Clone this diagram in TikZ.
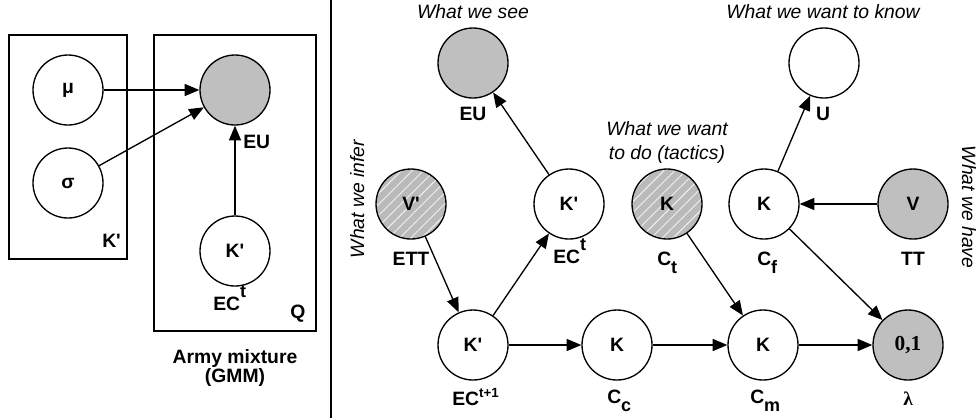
\documentclass[tikz,border=0pt]{standalone}
\usepackage{fontspec}
\setmainfont{Liberation Sans}
\newfontfamily\serifbf{Liberation Serif}
\usetikzlibrary{arrows.meta,patterns.meta}
\newcommand\mysup[1]{\raisebox{9.5pt}{\fontsize{13.5}{14}\selectfont #1}}
\newcommand\mysupsm[1]{\raisebox{5.5pt}{\fontsize{10}{11}\selectfont #1}}
\newcommand\mysub[1]{\raisebox{-6.5pt}{\fontsize{13.5}{14}\selectfont #1}}
\newcommand\kp{K\textquotesingle}
\begin{document}
\begin{tikzpicture}[x=0.75pt,y=-0.75pt,
  var/.style={circle,draw,line width=1pt,minimum size=52.5pt,inner sep=0pt,
    font=\fontsize{14.5}{16}\selectfont\bfseries},
  obs/.style={var,fill=black!25},
  hid/.style={var,preaction={fill=black!27},
    pattern={Lines[angle=45,distance=5.8pt,line width=0.7pt]},pattern color=black!6},
  lbl/.style={font=\fontsize{14.5}{16}\selectfont\bfseries,inner sep=0pt,anchor=base},
  lblw/.style={lbl,anchor=base west},
  itl/.style={font=\fontsize{14.5}{16}\selectfont\itshape,inner sep=0pt,anchor=base},
  plate/.style={draw,line width=1pt},
  arr/.style={line width=1pt,-{Triangle[length=11pt,width=9pt]}}]
\useasboundingbox (0,0) rectangle (980,419);
% ---------- left panel ----------
\draw[plate] (9,35) rectangle (127,259);
\draw[plate] (154,35) rectangle (316,331);
\node[var] (mu) at (68,90) {μ};
\node[var] (sg) at (68,183) {σ};
\node[obs] (eul) at (235,90) {};
\node[var] (kl) at (235,251) {\kp};
\node[lblw] (eull) at (243,148) {EU};
\node[lblw] (ecl) at (213,310) {EC\mysup{t}};
\node[lblw] (kpl) at (102,247) {\kp};
\node[lblw] (ql) at (290,318) {Q};
\node[lbl] (army1) at (235,363) {Army mixture};
\node[lbl] (army2) at (235,382) {(GMM)};
\draw[arr] (mu) -- (eul);
\draw[arr] (sg) -- (eul);
\draw[arr] (kl) -- (eul);
\coordinate (sept) at (331,0);
\coordinate (sepb) at (331,418);
\draw[line width=2.2pt] (sept) -- (sepb);
% ---------- right panel ----------
\node[obs] (eu) at (473,63) {};
\node[hid] (ett) at (411,204) {V\textquotesingle};
\node[var] (ect) at (569,204) {\kp};
\node[var] (ect1) at (473,345) {\kp};
\node[var] (cc) at (617,345) {K};
\node[hid] (ct) at (667,204) {K};
\node[var] (cf) at (764,204) {K};
\node[var] (u) at (824,63) {};
\node[obs] (tt) at (913,204) {V};
\node[var] (cm) at (763,345) {K};
\node[obs,font=\fontsize{16}{18}\selectfont\serifbf\bfseries] (lam) at (908,345) {0,1};
% labels
\node[lbl] (eulab) at (473,120) {EU};
\node[lbl] (ettlab) at (411,265) {ETT};
\node[lblw] (ectlab) at (553,263) {EC\mysup{t}};
\node[lblw] (ect1lab) at (452,405) {EC\mysupsm{t+1}};
\node[lblw] (cclab) at (607,403) {C\mysub{c}};
\node[lblw] (ctlab) at (657,265) {C\mysub{t}};
\node[lblw] (cflab) at (757,265) {C\mysub{f}};
\node[lbl] (ulab) at (823,120) {U};
\node[lbl] (ttlab) at (913,265) {TT};
\node[lblw] (cmlab) at (750,403) {C\mysub{m}};
\node[lbl,font=\fontsize{14.5}{16}\selectfont\serifbf\bfseries] (lamlab) at (908,405) {λ};
% italic annotations
\node[itl] (see) at (473,18) {What we see};
\node[itl] (know) at (823,18) {What we want to know};
\node[itl] (todo1) at (667,135) {What we want};
\node[itl] (todo2) at (667,159) {to do (tactics)};
\node[itl,rotate=90] (infer) at (364,199) {What we infer};
\node[itl,rotate=-90] (have) at (962,207) {What we have};
% arrows
\draw[arr] (ect) -- (eu);
\draw[arr] (ett) -- (ect1);
\draw[arr] (ect1) -- (ect);
\draw[arr] (ect1) -- (cc);
\draw[arr] (cc) -- (cm);
\draw[arr] (ct) -- (cm);
\draw[arr] (cm) -- (lam);
\draw[arr] (cf) -- (lam);
\draw[arr] (cf) -- (u);
\draw[arr] (tt) -- (cf);
\end{tikzpicture}
\end{document}
